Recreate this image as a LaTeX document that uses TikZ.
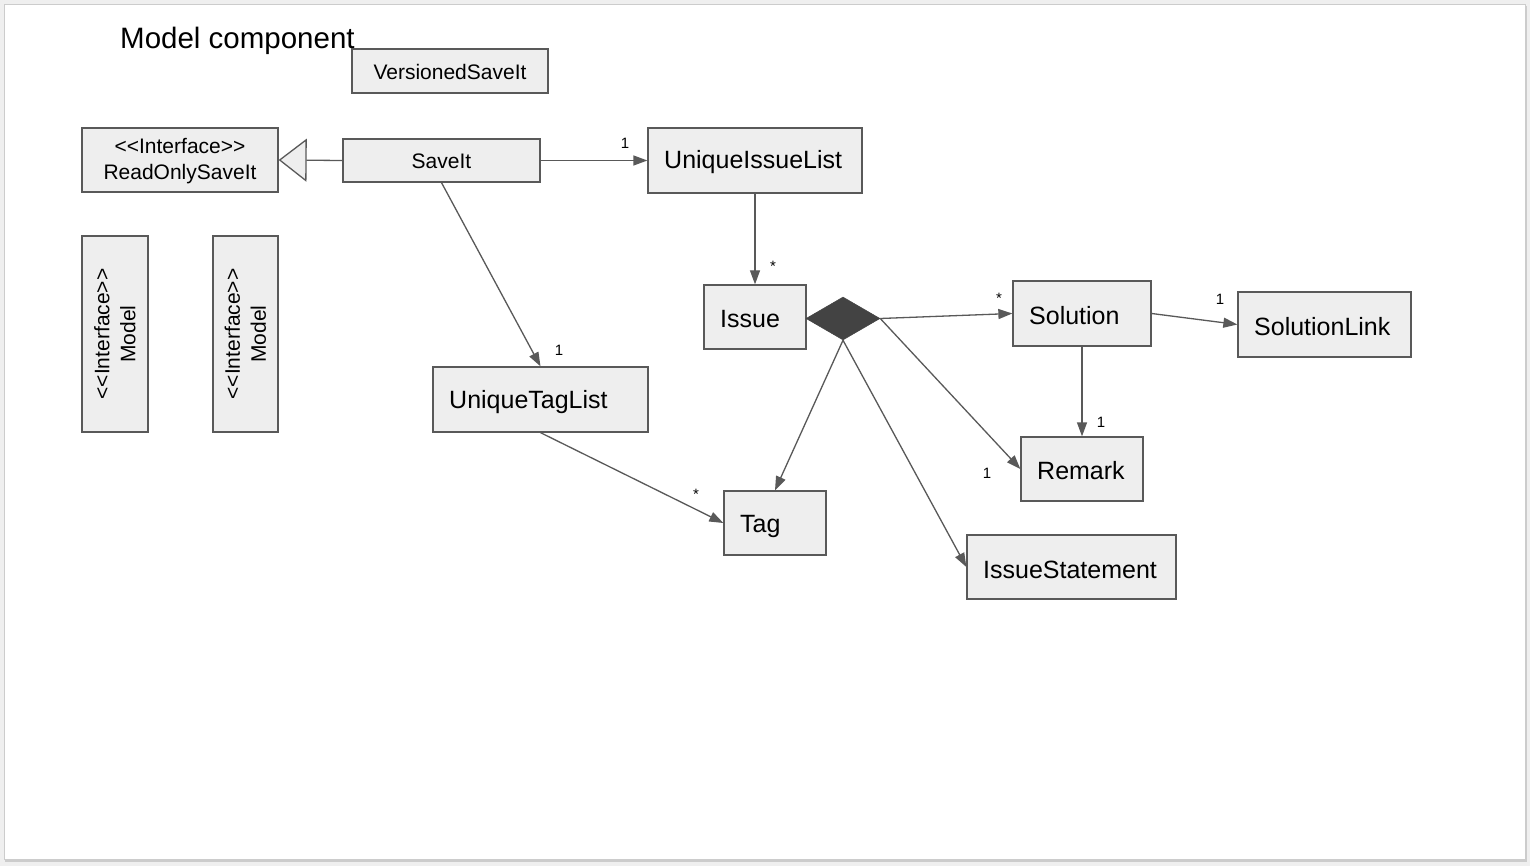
\documentclass[tikz,border=0pt]{standalone}
\usepackage{fontspec}
\setmainfont{Liberation Sans}
\usetikzlibrary{shapes.geometric,arrows.meta}
\definecolor{boxc}{HTML}{EEEEEE}
\definecolor{linec}{HTML}{595959}
\definecolor{diac}{HTML}{434343}
\definecolor{pagec}{HTML}{EFEFEF}
\definecolor{shadc}{HTML}{CCCCCC}
\tikzset{
  box/.style={draw=linec, fill=boxc, line width=1.3pt, inner sep=0pt, rectangle},
  big/.style={font=\fontsize{25}{29}\selectfont, text=black, inner sep=0pt},
  mid/.style={font=\fontsize{21}{26}\selectfont, text=black, inner sep=0pt},
  small/.style={font=\fontsize{15}{17}\selectfont, text=black, inner sep=0pt},
  conn/.style={draw=linec, line width=1.3pt, -{Triangle[length=14pt,width=10pt]}, shorten >=0pt},
  gen/.style={draw=linec, line width=1.3pt, -{Triangle[open, length=28pt, width=43pt, fill=boxc]}},
}
\begin{document}
\begin{tikzpicture}[x=1pt,y=-1pt]
\useasboundingbox (0,0) rectangle (1530,866);
\fill[pagec] (0,0) rectangle (1530,866);
\fill[shadc] (5,6) rectangle (1527,862);
\fill[white] (4,4) rectangle (1525,859);
\draw[shadc, line width=0.8pt] (4,4) rectangle (1525,859);

\node[anchor=base west, font=\fontsize{29.5}{34}\selectfont, inner sep=0pt] (title) at (120,49) {Model component};

% boxes
\node[box, minimum width=196pt, minimum height=44pt] (vsi) at (450,71) {};
\node[mid] (vsit) at (450,72) {VersionedSaveIt};

\node[box, minimum width=196pt, minimum height=64pt] (ros) at (180,160) {};
\node[mid, align=center] (rost) at (180,161) {<{}<Interface>{}>\\ReadOnlySaveIt};

\node[box, minimum width=197pt, minimum height=43pt] (si) at (441.5,160.5) {};
\node[mid] (sit) at (441.5,161.5) {SaveIt};

\node[box, minimum width=214pt, minimum height=65pt] (uil) at (755,160.5) {};
\node[big, anchor=west] (uilt) at (664,162) {UniqueIssueList};

\node[box, minimum width=66pt, minimum height=196pt] (m1) at (115,334) {};
\node[mid, rotate=90, align=center] (m1t) at (m1.center) {<{}<Interface>{}>\\Model};
\node[box, minimum width=65pt, minimum height=196pt] (m2) at (245.5,334) {};
\node[mid, rotate=90, align=center] (m2t) at (m2.center) {<{}<Interface>{}>\\Model};

\node[box, minimum width=102pt, minimum height=64pt] (iss) at (755,317) {};
\node[big, anchor=west] (isst) at (720,319) {Issue};

\node[diamond, fill=diac, draw=diac, line width=0.5pt, minimum width=74pt, minimum height=43pt, inner sep=0pt] (dia) at (843,318.5) {};

\node[box, minimum width=138pt, minimum height=65pt] (sol) at (1082,313.5) {};
\node[big, anchor=west] (solt) at (1029,316) {Solution};

\node[box, minimum width=173pt, minimum height=65pt] (sl) at (1324.5,324.5) {};
\node[big, anchor=west] (slt) at (1254,327) {SolutionLink};

\node[box, minimum width=215pt, minimum height=65pt] (utl) at (540.5,399.5) {};
\node[big, anchor=west] (utlt) at (449,402) {UniqueTagList};

\node[box, minimum width=122pt, minimum height=64pt] (rem) at (1082,469) {};
\node[big, anchor=west] (remt) at (1037,471) {Remark};

\node[box, minimum width=102pt, minimum height=64pt] (tag) at (775,523) {};
\node[big, anchor=west] (tagt) at (740,526) {Tag};

\node[box, minimum width=209pt, minimum height=64pt] (ist) at (1071.5,567) {};
\node[big, anchor=west] (istt) at (983,570) {IssueStatement};

% connectors
\draw[gen] (si.west) -- (ros.east);
\draw[conn] (si.east) -- (uil.west);
\draw[conn] (uil.south) -- (iss.north);
\draw[conn] (si.south) -- (utl.north);
\draw[conn] (utl.south) -- (tag.west);
\draw[conn] (dia.east) -- (sol.west);
\draw[conn] (sol.east) -- (sl.west);
\draw[conn] (sol.south) -- (rem.north);
\draw[conn] (dia.east) -- (rem.west);
\draw[conn] (dia.south) -- (tag.north);
\draw[conn] (dia.south) -- (ist.west);

% multiplicities
\node[small] (l1) at (625,143) {1};
\node[small] (l2) at (773,266) {*};
\node[small] (l3) at (559,350) {1};
\node[small] (l4) at (696,494) {*};
\node[small] (l5) at (999,298) {*};
\node[small] (l6) at (1220,299) {1};
\node[small] (l7) at (1101,422) {1};
\node[small] (l8) at (987,473) {1};
\end{tikzpicture}
\end{document}
